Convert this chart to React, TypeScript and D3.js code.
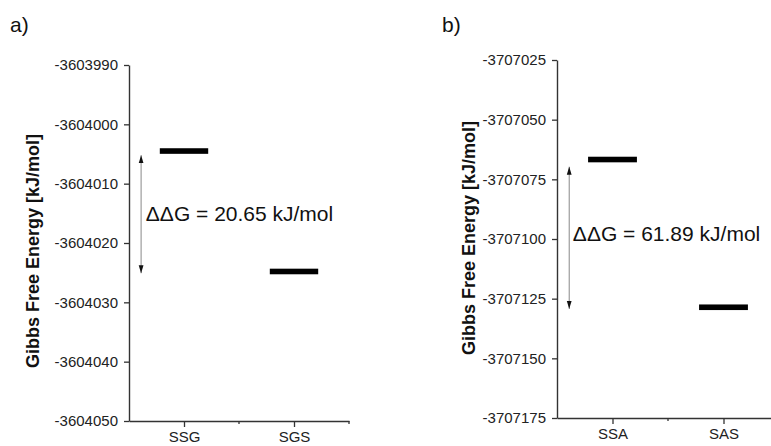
import React, { useEffect, useRef } from "react";
import * as d3 from "d3";

// panel a)
const categoriesA = ["SSG", "SGS"];
const energiesA = [-3604004.5, -3604024.8];
const yTicksA = [-3603990, -3604000, -3604010, -3604020, -3604030, -3604040, -3604050];
const arrowA = [-3604005.2, -3604025.1];
const deltaA = "ΔΔG = 20.65 kJ/mol";
const deltaPosA = -3604016.3;

// panel b)
const categoriesB = ["SSA", "SAS"];
const energiesB = [-3707066.7, -3707128.6];
const yTicksB = [-3707025, -3707050, -3707075, -3707100, -3707125, -3707150, -3707175];
const arrowB = [-3707069.7, -3707129.3];
const deltaB = "ΔΔG = 61.89 kJ/mol";
const deltaPosB = -3707100.8;

const panelLabels = ["a)", "b)"];
const yTitle = "Gibbs Free Energy [kJ/mol]";

const W = 771, H = 446;
const FONT = "'Liberation Sans', Arial, sans-serif";

type Panel = {
  label: string;
  labelX: number;
  cats: string[];
  values: number[];
  ticks: number[];
  arrow: number[];
  delta: string;
  deltaY: number;
  xRange: [number, number];
  yRange: [number, number];
  titleX: number;
  titleY: number;
  arrowX: number;
  textX: number;
};

const panels: Panel[] = [
  {
    label: panelLabels[0], labelX: 10,
    cats: categoriesA, values: energiesA, ticks: yTicksA, arrow: arrowA,
    delta: deltaA, deltaY: deltaPosA,
    xRange: [129, 349], yRange: [65, 421],
    titleX: 39, titleY: 251, arrowX: 0.61, textX: 0.653,
  },
  {
    label: panelLabels[1], labelX: 442,
    cats: categoriesB, values: energiesB, ticks: yTicksB, arrow: arrowB,
    delta: deltaB, deltaY: deltaPosB,
    xRange: [557, 779], yRange: [60, 418],
    titleX: 475, titleY: 238, arrowX: 0.61, textX: 0.643,
  },
];

export default function App() {
  const ref = useRef<SVGSVGElement | null>(null);

  useEffect(() => {
    const el = ref.current;
    if (!el) return;
    const svg = d3.select(el);
    svg.selectAll("*").remove();

    const defs = svg.append("defs");
    defs.append("marker")
      .attr("id", "head")
      .attr("viewBox", "0 0 8 8")
      .attr("refX", 8)
      .attr("refY", 4)
      .attr("markerWidth", 8)
      .attr("markerHeight", 8)
      .attr("markerUnits", "userSpaceOnUse")
      .attr("orient", "auto-start-reverse")
      .append("path")
      .attr("d", "M0,1.6 L8,4 L0,6.4 Z")
      .attr("fill", "#111");

    panels.forEach((p) => {
      const x = d3.scaleLinear().domain([0.5, 2.5]).range(p.xRange);
      const y = d3.scaleLinear()
        .domain([p.ticks[0], p.ticks[p.ticks.length - 1]])
        .range(p.yRange);
      const x0 = p.xRange[0];
      const yb = p.yRange[1];

      svg.append("text")
        .attr("x", p.labelX)
        .attr("y", 32)
        .attr("font-family", FONT)
        .attr("font-size", 21)
        .attr("fill", "#111")
        .text(p.label);

      // y axis (plain hyphen minus, like the original)
      const ya = svg.append("g")
        .attr("transform", `translate(${x0},0)`)
        .call(
          d3.axisLeft(y)
            .tickValues(p.ticks)
            .tickFormat((d) => String(d))
            .tickSize(5)
            .tickSizeOuter(0)
            .tickPadding(6)
        );
      ya.selectAll("text").attr("font-family", FONT).attr("font-size", 15).attr("fill", "#222");
      ya.selectAll("line").attr("stroke", "#333").attr("stroke-width", 1.3);
      ya.select(".domain").attr("stroke", "#333").attr("stroke-width", 1.4);

      // x axis
      const xa = svg.append("g")
        .attr("transform", `translate(0,${yb})`)
        .call(
          d3.axisBottom(x)
            .tickValues([1, 2])
            .tickFormat((d) => p.cats[(d as number) - 1])
            .tickSize(6)
            .tickSizeOuter(0)
            .tickPadding(4.5)
        );
      xa.selectAll("text").attr("font-family", FONT).attr("font-size", 15).attr("fill", "#222");
      xa.selectAll("line").attr("stroke", "#333").attr("stroke-width", 1.3);
      xa.select(".domain").attr("stroke", "#333").attr("stroke-width", 1.4);

      // minor ticks
      svg.append("g")
        .selectAll("line")
        .data([1.5, 2.5])
        .join("line")
        .attr("x1", (d) => x(d))
        .attr("x2", (d) => x(d))
        .attr("y1", yb)
        .attr("y2", yb + 3)
        .attr("stroke", "#333")
        .attr("stroke-width", 1.3);

      // y title
      svg.append("text")
        .attr("transform", `translate(${p.titleX},${p.titleY}) rotate(-90)`)
        .attr("text-anchor", "middle")
        .attr("font-family", FONT)
        .attr("font-weight", "bold")
        .attr("font-size", 18)
        .attr("fill", "#111")
        .text(yTitle);

      // energy levels
      svg.append("g")
        .selectAll("rect")
        .data(p.values)
        .join("rect")
        .attr("x", (_, i) => x(i + 1 - 0.22))
        .attr("width", (_, i) => x(i + 1 + 0.22) - x(i + 1 - 0.22))
        .attr("y", (d) => y(d) - 2.8)
        .attr("height", 5.6)
        .attr("fill", "#000");

      // double arrow
      svg.append("line")
        .attr("x1", x(p.arrowX))
        .attr("x2", x(p.arrowX))
        .attr("y1", y(p.arrow[0]))
        .attr("y2", y(p.arrow[1]))
        .attr("stroke", "#888")
        .attr("stroke-width", 1)
        .attr("marker-start", "url(#head)")
        .attr("marker-end", "url(#head)");

      svg.append("text")
        .attr("x", x(p.textX))
        .attr("y", y(p.deltaY))
        .attr("font-family", FONT)
        .attr("font-size", 21)
        .attr("fill", "#111")
        .text(p.delta);
    });
  }, []);

  return (
    <svg
      ref={ref}
      width={W}
      height={H}
      style={{ position: "absolute", left: 0, top: 0, background: "#fff" }}
    />
  );
}
